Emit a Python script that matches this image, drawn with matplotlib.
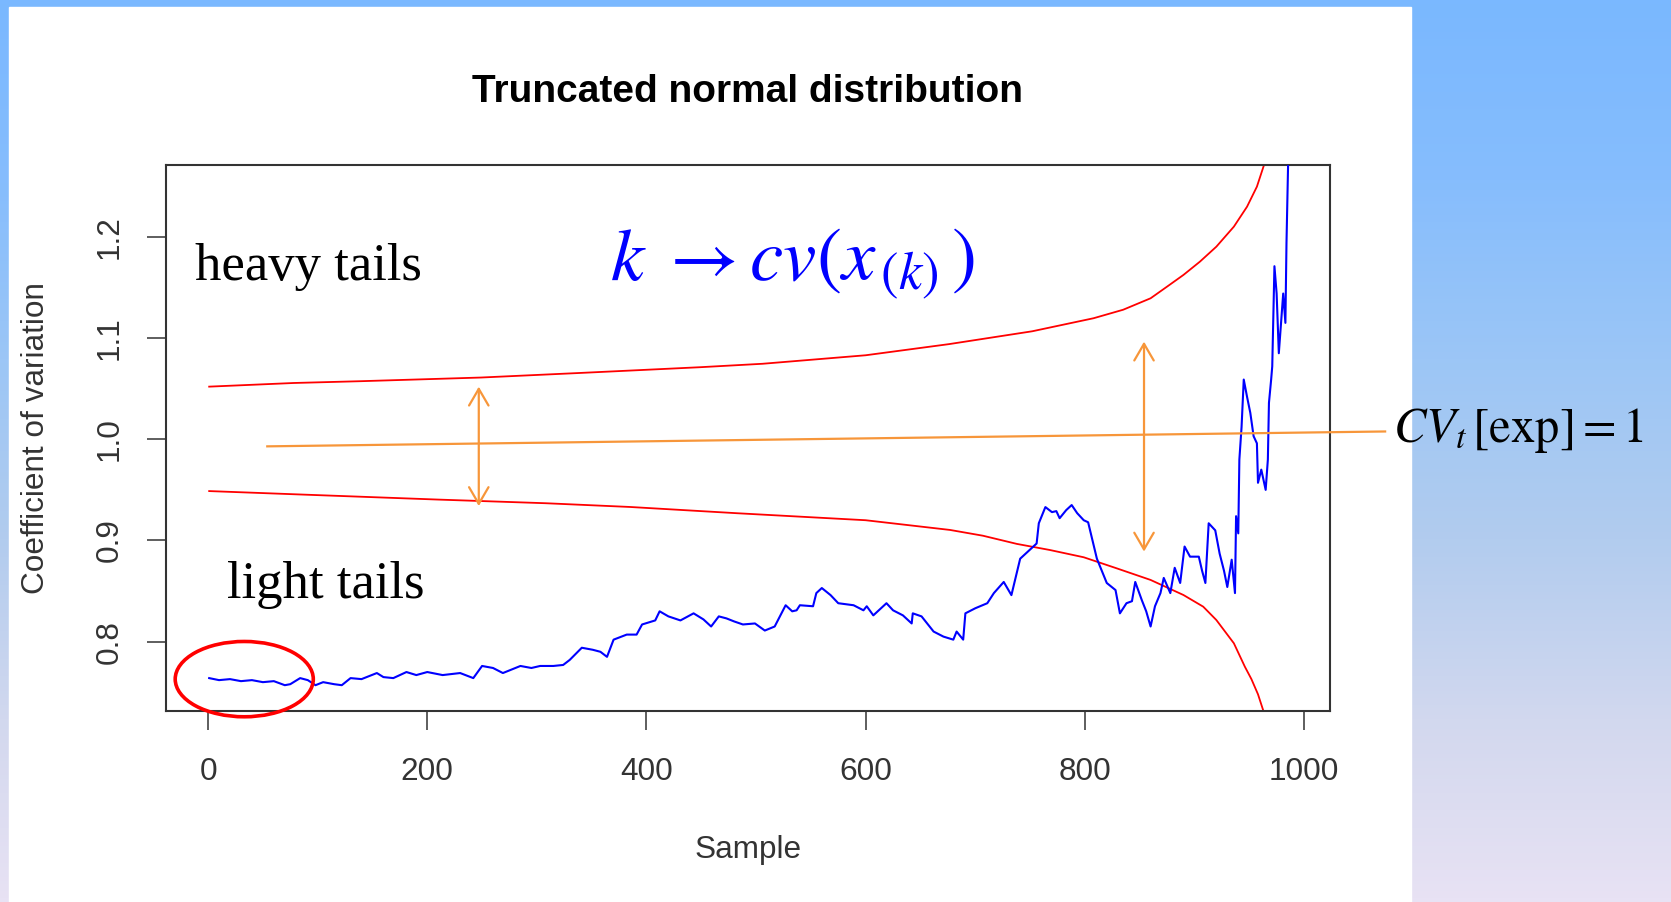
import numpy as np
import matplotlib
matplotlib.use('Agg')
import matplotlib.pyplot as plt
from matplotlib.colors import LinearSegmentedColormap
from matplotlib.patches import Rectangle, Ellipse, FancyArrowPatch, ArrowStyle

plt.rcParams['mathtext.fontset'] = 'stix'
plt.rcParams['font.family'] = 'Liberation Sans'

# sample index and coefficient of variation of the ordered sample
cv_sample = [1, 10, 20, 30, 40, 50, 60, 70, 75, 84, 91, 98, 105, 115, 122, 130, 140, 154, 160, 169,
             181, 190, 200, 214, 230, 242, 250, 260, 269, 285, 295, 303, 315, 324, 330, 341, 351, 358,
             364, 370, 382, 391, 396, 408, 412, 420, 431, 443, 452, 459, 466, 473, 480, 488, 499, 508,
             517, 527, 533, 537, 540, 552, 555, 560, 568, 575, 589, 598, 601, 607, 619, 625, 634, 642,
             643, 651, 662, 671, 680, 683, 689, 691, 700, 711, 717, 726, 733, 741, 750, 756, 758, 764,
             770, 774, 777, 783, 788, 793, 799, 803, 811, 820, 828, 832, 838, 843, 846, 852, 856, 860,
             864, 869, 872, 878, 882, 887, 891, 896, 904, 907, 910, 913, 919, 923, 927, 930, 934, 937,
             938, 940, 941, 943, 945, 948, 951, 954, 957, 958, 961, 965, 967, 968, 970, 971, 973, 975,
             977, 979, 981, 983, 984, 986]
cv_value = [0.764, 0.762, 0.763, 0.761, 0.762, 0.760, 0.761, 0.757, 0.758, 0.764, 0.762, 0.757, 0.760,
            0.758, 0.757, 0.764, 0.763, 0.769, 0.765, 0.764, 0.770, 0.767, 0.770, 0.767, 0.769, 0.764,
            0.776, 0.774, 0.769, 0.776, 0.774, 0.776, 0.776, 0.777, 0.782, 0.794, 0.792, 0.790, 0.785,
            0.802, 0.807, 0.807, 0.817, 0.821, 0.830, 0.825, 0.821, 0.828, 0.822, 0.815, 0.825, 0.823,
            0.820, 0.817, 0.818, 0.811, 0.815, 0.836, 0.830, 0.831, 0.836, 0.835, 0.848, 0.853, 0.846,
            0.838, 0.836, 0.831, 0.835, 0.826, 0.838, 0.831, 0.826, 0.818, 0.828, 0.825, 0.810, 0.805,
            0.802, 0.810, 0.802, 0.828, 0.833, 0.838, 0.848, 0.859, 0.846, 0.882, 0.891, 0.897, 0.917,
            0.933, 0.928, 0.929, 0.922, 0.930, 0.935, 0.927, 0.920, 0.918, 0.882, 0.858, 0.851, 0.828,
            0.838, 0.840, 0.859, 0.841, 0.830, 0.815, 0.835, 0.848, 0.863, 0.848, 0.873, 0.858, 0.894,
            0.884, 0.884, 0.870, 0.858, 0.917, 0.910, 0.887, 0.870, 0.854, 0.881, 0.848, 0.924, 0.907,
            0.980, 1.012, 1.059, 1.042, 1.026, 1.003, 0.996, 0.957, 0.970, 0.950, 0.980, 1.036, 1.059,
            1.072, 1.171, 1.144, 1.085, 1.115, 1.144, 1.115, 1.194, 1.300]

# bounds
upper_x = [1, 78, 140, 249, 339, 449, 506, 600, 676, 752, 808, 835, 860, 875, 890, 905, 920, 936,
           948, 957, 964, 967]
upper_y = [1.052, 1.0556, 1.0574, 1.061, 1.0655, 1.0712, 1.0746, 1.083, 1.094, 1.1067, 1.1196,
           1.128, 1.1393, 1.1508, 1.1624, 1.1755, 1.1903, 1.2101, 1.2298, 1.2496, 1.2727, 1.285]
lower_x = [1, 90, 210, 308, 385, 483, 600, 677, 707, 738, 768, 799, 829, 860, 890, 908, 920, 936,
           946, 952, 958, 964]
lower_y = [0.9488, 0.9452, 0.9404, 0.9368, 0.9331, 0.9269, 0.920, 0.9104, 0.9047, 0.8966, 0.8906,
           0.8834, 0.8725, 0.861, 0.8461, 0.8346, 0.8214, 0.7984, 0.7753, 0.763, 0.748, 0.728]

# CV of the exponential (=1) reference line and the spread arrows
ref_x = [54, 1074]
ref_y = [0.993, 1.0077]
arrow_x = [247, 854]
arrow_lo = [0.934, 0.889]
arrow_hi = [1.052, 1.0965]

W, H = 1671, 902
fig = plt.figure(figsize=(W / 100, H / 100), dpi=100)

# slide background
bg = fig.add_axes([0, 0, 1, 1], zorder=-10)
cmap = LinearSegmentedColormap.from_list(
    'slide', ['#7ab8ff', '#86bdfd', '#9cc6f6', '#b2ccee', '#d2d8ee', '#e8e2f4'])
bg.imshow(np.linspace(0, 1, 256)[:, None], aspect='auto', cmap=cmap, extent=[0, 1, 0, 1])
bg.add_patch(Rectangle((9 / W, 0), 1402 / W, 895 / H, color='white', transform=bg.transAxes))
bg.set_xlim(0, 1)
bg.set_ylim(0, 1)
bg.axis('off')

ax = fig.add_axes([166 / W, 1 - 711 / H, 1164 / W, 546 / H])
ax.plot(cv_sample, cv_value, color='#0000ff', lw=1.5, zorder=3)
ax.plot(upper_x, upper_y, color='#ff0000', lw=1.3, zorder=2)
ax.plot(lower_x, lower_y, color='#ff0000', lw=1.3, zorder=2)
ax.plot(ref_x, ref_y, color='#f7963a', lw=1.6, clip_on=False, zorder=4)
for x, lo, hi in zip(arrow_x, arrow_lo, arrow_hi):
    ax.add_patch(FancyArrowPatch((x, lo), (x, hi),
                                 arrowstyle=ArrowStyle('<->', head_length=12, head_width=7),
                                 mutation_scale=1, color='#f7963a', lw=1.6,
                                 shrinkA=0, shrinkB=0, zorder=4))
ax.add_patch(Ellipse((33, 0.763), 126, 0.0744, fill=False, edgecolor='#ff0000', lw=2.6,
                     clip_on=False, zorder=5))

ax.set_xlim(-38.4, 1023.7)
ax.set_ylim(0.7315, 1.271)
ax.set_xticks([0, 200, 400, 600, 800, 1000])
ax.set_yticks([0.8, 0.9, 1.0, 1.1, 1.2])
ax.set_yticklabels(['0.8', '0.9', '1.0', '1.1', '1.2'], rotation=90, va='center')
ax.tick_params(length=14, width=1.1, color='#333333', labelsize=22.7, labelcolor='#333333')
ax.tick_params(axis='x', pad=19)
ax.tick_params(axis='y', pad=16)
for s in ax.spines.values():
    s.set_color('#333333')
    s.set_linewidth(1.5)
ax.set_xlabel('Sample', fontsize=22.7, color='#333333', labelpad=35)
ax.set_ylabel('Coefficient of variation', fontsize=22.7, color='#333333', labelpad=31)

fig.text(748 / W, 1 - 102 / H, 'Truncated normal distribution', fontsize=28, fontweight='bold',
         ha='center', va='baseline')
fig.text(195 / W, 1 - 280 / H, 'heavy tails', family='Liberation Serif', fontsize=38,
         va='baseline')
fig.text(227 / W, 1 - 598 / H, 'light tails', family='Liberation Serif', fontsize=38,
         va='baseline')
fig.text(610 / W, 1 - 280 / H, r'$k\;\rightarrow cv(x_{\,(k)}\,)$', fontsize=54, color='#0000ff',
         va='baseline')
fig.text(1393 / W, 1 - 442 / H, r'$CV_{t}\,\left[\mathrm{exp}\right]=1$', fontsize=35,
         va='baseline')

fig.savefig('out.png', dpi=100)
